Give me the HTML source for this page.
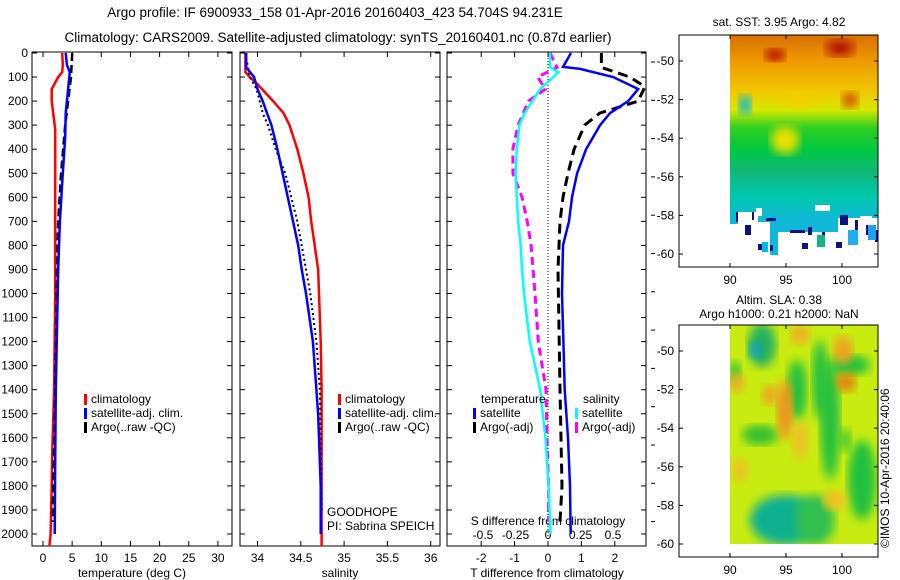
<!DOCTYPE html>
<html><head><meta charset="utf-8"><style>
html,body{margin:0;padding:0;background:#fff;}
svg{display:block;font-family:"Liberation Sans",Arial,sans-serif;}
</style></head><body>
<svg id="c" width="900" height="580" viewBox="0 0 900 580">
<defs>
<linearGradient id="sstg" x1="0" y1="0" x2="0" y2="1">
<stop offset="0" stop-color="#d87000"/><stop offset="0.12" stop-color="#ee9a00"/>
<stop offset="0.26" stop-color="#f0c800"/><stop offset="0.34" stop-color="#d8e800"/>
<stop offset="0.42" stop-color="#30d020"/><stop offset="0.52" stop-color="#00c840"/>
<stop offset="0.62" stop-color="#10b878"/><stop offset="0.74" stop-color="#00c8b0"/>
<stop offset="0.84" stop-color="#10b8d8"/><stop offset="1" stop-color="#10b8d8"/>
</linearGradient>
<filter id="blur"><feGaussianBlur stdDeviation="5"/></filter>
</defs>
<g id="root"></g>
</svg>
<script>
// ---- data ----
const depthT = [0,50,80,100,150,200,280,320,400,600,800,1000,1400,1650,1800,2000,2050];
const tempClim = [3.3,3.4,3.3,2.6,1.5,1.5,1.9,2.1,2.1,2.1,2.1,2.1,1.9,1.6,1.5,1.3,1.1];
const depthTS = [0,50,80,150,250,350,500,700,900,1400,1700,2000];
const tempSat = [3.9,4.1,4.6,4.3,3.9,3.8,3.4,2.9,2.6,2.2,2.1,2.0];
const depthTA = [0,100,200,300,500,700,900,1400,1900,1950];
const tempArgo = [5.0,4.8,4.3,3.8,3.1,2.6,2.4,2.1,1.7,1.7];

const depthS = [0,80,100,130,200,250,300,400,500,600,700,800,900,1000,1200,1400,1600,1800,2050];
const salClim = [33.86,33.86,33.91,34.0,34.18,34.3,34.37,34.46,34.53,34.59,34.62,34.66,34.7,34.71,34.73,34.74,34.74,34.74,34.74];
const depthSS = [0,60,100,150,200,250,300,400,500,600,700,800,900,1000,1200,1400,1500,1600,1800,2000];
const salSat = [33.87,33.87,33.96,34.0,34.06,34.11,34.16,34.23,34.29,34.35,34.41,34.47,34.51,34.56,34.64,34.68,34.7,34.71,34.73,34.73];
const depthSA = [0,100,150,250,300,400,500,600,700,800,900,1000,1200,1400,1900];
const salArgo = [33.86,33.91,33.99,34.06,34.12,34.21,34.32,34.39,34.46,34.51,34.56,34.61,34.68,34.72,34.74];

const depthD = [0,58,66,100,150,200,250,300,400,500,600,700,800,1000,1200,1400,1600,1800,2000];
const dTSat = [0.69,0.45,0.96,1.95,2.7,2.4,1.86,1.56,1.14,0.87,0.72,0.63,0.45,0.42,0.46,0.5,0.6,0.66,0.68];
const depthDA = [0,60,100,140,200,250,300,400,500,600,700,900,1400,1800,1950];
const dTArgo = [1.6,1.6,2.45,2.9,2.7,1.55,1.1,0.78,0.6,0.45,0.36,0.3,0.36,0.42,0.36];
const depthDS = [0,60,80,100,150,200,250,300,400,500,600,700,800,900,1000,1200,1400,1600,1800,2000];
const dSSat = [0.015,0.015,0.08,0.04,-0.06,-0.12,-0.18,-0.22,-0.24,-0.25,-0.24,-0.23,-0.21,-0.2,-0.185,-0.14,-0.06,-0.02,0.005,0.02];
const depthDSA = [0,60,100,150,200,300,400,500,600,700,800,900,1000,1200,1400,1600,1800,1950];
const dSArgo = [0.015,0.07,-0.08,-0.02,-0.15,-0.23,-0.27,-0.27,-0.2,-0.16,-0.13,-0.115,-0.1,-0.075,-0.015,-0.008,0.005,0.005];

const depthTicks = [0,100,200,300,400,500,600,700,800,900,1000,1100,1200,1300,1400,1500,1600,1700,1800,1900,2000];
const tempTicks = [0,5,10,15,20,25,30];
const salTicks = [34,34.5,35,35.5,36];
const salTickLabels = ["34","34.5","35","35.5","36"];
const dTTicks = [-2,-1,0,1,2];
const dSTicks = [-0.5,-0.25,0,0.25,0.5];
const dSTickLabels = ["-0.5","-0.25","0","0.25","0.5"];
const latTicks = [-50,-52,-54,-56,-58,-60];
const lonTicks = [90,95,100];

// ---- axes ----
const Y = d => 53 + d*0.2405;
const XT = t => 43 + t*5.83;
const XS = s => 257.5 + (s-34)*86.6;
const XD = v => 548 + v*33.4;
const XDS = v => 548 + v*130;
const LAT1 = l => 61 + (-50-l)*19.3;
const LAT2 = l => 351 + (-50-l)*19.3;
const LON = l => 730 + (l-90)*11.2;

const NS='http://www.w3.org/2000/svg';
const root=document.getElementById('root');
function mk(tag,attrs,parent){const e=document.createElementNS(NS,tag);for(const k in attrs)e.setAttribute(k,attrs[k]);(parent||root).appendChild(e);return e;}
function txt(x,y,s,anchor,size,parent){const e=mk('text',{x:x,y:y,'font-size':size||12,'text-anchor':anchor||'start',fill:'#000'},parent);e.textContent=s;return e;}
function line(xs,ds,X,color,w,dash,name){
  const pts=xs.map((v,i)=>X(v).toFixed(1)+','+Y(ds[i]).toFixed(1)).join(' ');
  const p=mk('polyline',{points:pts,fill:'none',stroke:color,'stroke-width':w,'stroke-dasharray':dash||'none'});
  
  
}

// titles
let t=txt(335,17,'Argo profile: IF 6900933_158 01-Apr-2016 20160403_423 54.704S 94.231E','middle',13.5);


t=txt(338,42,'Climatology: CARS2009. Satellite-adjusted climatology: synTS_20160401.nc (0.87d earlier)','middle',13.5);



const panels=[{x0:32,x1:232,n:'temperature'},{x0:240,x1:440,n:'salinity'},{x0:447,x1:646,n:'difference'}];
panels.forEach(p=>{
  const r=mk('rect',{x:p.x0,y:52,width:p.x1-p.x0,height:494,fill:'#fff',stroke:'#000','stroke-width':1});
  
  
  depthTicks.forEach(d=>{
    mk('line',{x1:p.x0,x2:p.x0+5,y1:Y(d),y2:Y(d),stroke:'#000'});
    mk('line',{x1:p.x1-5,x2:p.x1,y1:Y(d),y2:Y(d),stroke:'#000'});
  });
});
depthTicks.forEach(d=>{const e=txt(28,Y(d)+4,String(d),'end',12);
  
  });
// small ticks right of panel 3
for(let k=0;k<13;k++){const y=62+38.3*k;if(y<546)mk('line',{x1:651,x2:655,y1:y,y2:y,stroke:'#000'});}

function xticks(vals,labels,X,y){vals.forEach((v,i)=>{const x=X(v);
  mk('line',{x1:x,x2:x,y1:546,y2:541,stroke:'#000'});mk('line',{x1:x,x2:x,y1:52,y2:57,stroke:'#000'});
  const e=txt(x,y,labels?labels[i]:String(v),'middle',12);
  
  });}
xticks(tempTicks,null,XT,562);
xticks(salTicks,salTickLabels,XS,562);
xticks(dTTicks,null,XD,562);
dSTicks.forEach((v,i)=>{const e=txt(XDS(v),539,dSTickLabels[i],'middle',12);
  
  });

[[132,'temperature (deg C)','temperature-axis-title'],[340,'salinity','salinity-axis-title'],[547,'T difference from climatology','t-diff-axis-title']].forEach(a=>{
  const e=txt(a[0],577,a[1],'middle',12);
  
  });
t=txt(548,525,'S difference from climatology','middle',12);



// zero line
const z=mk('line',{x1:548,x2:548,y1:52,y2:546,stroke:'#000','stroke-dasharray':'1,2'});



// series
line(tempClim,depthT,XT,'#f00',2.5,null,'temp-climatology-line');
line(tempArgo,depthTA,XT,'#000',2.5,'8,4','temp-argo-line');
line(tempSat,depthTS,XT,'#00f',2.5,null,'temp-satellite-line');
line(salClim,depthS,XS,'#f00',2.5,null,'sal-climatology-line');
line(salArgo,depthSA,XS,'#000',2,'2,3','sal-argo-line');
line(salSat,depthSS,XS,'#00f',2.5,null,'sal-satellite-line');
line(dTArgo,depthDA,XD,'#000',3,'10,6','dT-argo-line');
line(dTSat,depthD,XD,'#00f',2.5,null,'dT-satellite-line');
line(dSArgo,depthDSA,XDS,'#f0f',3,'8,5','dS-argo-line');
line(dSSat,depthDS,XDS,'#0ff',2.5,null,'dS-satellite-line');

// legends
function leg(x,y,color,label,dash,name){
  const g=mk('g',{});
  
  
  mk('rect',{x:x,y:y-9,width:3,height:11,fill:color},g);
  txt(x+7,y,label,'start',12,g);
}
leg(84,403,'#f00','climatology',0,'legend-temp-climatology');
leg(84,417,'#00f','satellite-adj. clim.',0,'legend-temp-satellite');
leg(84,431,'#000','Argo(..raw -QC)',0,'legend-temp-argo');
leg(338,403,'#f00','climatology',0,'legend-sal-climatology');
leg(338,417,'#00f','satellite-adj. clim.',0,'legend-sal-satellite');
leg(338,431,'#000','Argo(..raw -QC)',0,'legend-sal-argo');
t=txt(481,403,'temperature','start',12);
t=txt(583,403,'salinity','start',12);
leg(473,417,'#00f','satellite',0,'legend-dT-satellite');
leg(473,431,'#000','Argo(-adj)',0,'legend-dT-argo');
leg(575,417,'#0ff','satellite',0,'legend-dS-satellite');
leg(575,431,'#f0f','Argo(-adj)',0,'legend-dS-argo');
t=txt(327,516,'GOODHOPE','start',12);
t=txt(327,530,'PI: Sabrina SPEICH','start',12);

// ---- maps ----
function mapFrame(y0,y1,LAT,name){
  const r=mk('rect',{x:679,y:y0,width:199,height:y1-y0,fill:'none',stroke:'#000'});
  
  
  latTicks.forEach(l=>{const y=LAT(l);mk('line',{x1:679,x2:683,y1:y,y2:y,stroke:'#000'});mk('line',{x1:874,x2:878,y1:y,y2:y,stroke:'#000'});
    const e=txt(674,y+4,String(l),'end',12);});
  lonTicks.forEach(l=>{const x=LON(l);mk('line',{x1:x,x2:x,y1:y1,y2:y1-4,stroke:'#000'});mk('line',{x1:x,x2:x,y1:y0,y2:y0+4,stroke:'#000'});
    const e=txt(x,y1+17,String(l),'middle',12);});
}
// SST map
const sst=mk('g',{});


mk('rect',{x:730,y:35,width:148,height:220,fill:'url(#sstg)'},sst);
[[775,55,10,6,'#b00000'],[840,48,14,8,'#b01000'],[850,100,8,8,'#d05000'],[785,140,14,14,'#e8e000'],[745,105,6,10,'#00b8e0'],[800,100,20,8,'#f0d000']].forEach(b=>mk('ellipse',{cx:b[0],cy:b[1],rx:b[2],ry:b[3],fill:b[4],filter:'url(#blur)'},sst));
[[730,224,8,35],[738,212,20,48],[758,222,12,40],[778,232,60,30],[838,218,40,40],[756,208,6,8],[815,205,15,6],[860,216,12,20]].forEach(h=>mk('rect',{x:h[0],y:h[1],width:h[2],height:h[3],fill:'#fff'},sst));
[[736,212,2,10],[752,212,2,8],[766,218,10,3],[790,230,15,3],[808,227,4,8],[822,232,3,14],[840,215,8,10],[855,220,3,12],[866,225,4,10],[875,230,3,12],[758,244,6,6],[770,245,4,6],[745,225,6,10,],[802,243,6,6],[836,242,6,6]].forEach(h=>mk('rect',{x:h[0],y:h[1],width:h[2],height:h[3],fill:'#101080'},sst));
[[762,242,6,10,'#00c0e0'],[773,244,4,8,'#00c0e0'],[817,235,8,12,'#10b888'],[848,230,10,15,'#20b0f0'],[868,225,8,15,'#20a0f0']].forEach(h=>mk('rect',{x:h[0],y:h[1],width:h[2],height:h[3],fill:h[4]},sst));
mapFrame(35,267,LAT1,'sst-map');
t=txt(779,26,'sat. SST: 3.95 Argo: 4.82','middle',12);

// SLA map
const sla=mk('g',{});


const cp=mk('clipPath',{id:'slaclip'});mk('rect',{x:730,y:325,width:148,height:219},cp);
const slaIn=mk('g',{'clip-path':'url(#slaclip)'},sla);
mk('rect',{x:730,y:325,width:148,height:219,fill:'#c8ec10'},slaIn);
[[762,345,14,22,'#20b060'],[755,350,6,8,'#10a0d0'],[797,390,10,30,'#20c040'],[820,380,8,40,'#20c040'],[830,420,10,60,'#20c040'],[785,520,35,25,'#10b090'],[850,365,20,10,'#20c040'],[862,480,14,40,'#20c040'],[760,435,18,10,'#30c030'],[735,373,6,12,'#30c030'],[845,440,6,12,'#40c830'],[815,520,20,25,'#30c050']].forEach(b=>mk('ellipse',{cx:b[0],cy:b[1],rx:b[2],ry:b[3],fill:b[4],filter:'url(#blur)'},slaIn));
[[785,410,8,30,'#f09020'],[770,395,8,10,'#f0a020'],[843,350,10,14,'#f0a020'],[846,382,10,10,'#e08010'],[737,383,8,10,'#f0b020'],[800,335,10,10,'#f0b020'],[835,500,12,10,'#f0c020'],[740,470,8,12,'#f0c020'],[800,440,8,20,'#f0c020']].forEach(b=>mk('ellipse',{cx:b[0],cy:b[1],rx:b[2],ry:b[3],fill:b[4],filter:'url(#blur)'},slaIn));
mapFrame(325,557,LAT2,'sla-map');
t=txt(779,304,'Altim. SLA: 0.38','middle',12);
t=txt(779,318,'Argo h1000: 0.21 h2000: NaN','middle',12);
t=txt(0,0,'©IMOS 10-Apr-2016 20:40:06','start',12);
t.setAttribute('transform','translate(889,548) rotate(-90)');


</script>
</body></html>
